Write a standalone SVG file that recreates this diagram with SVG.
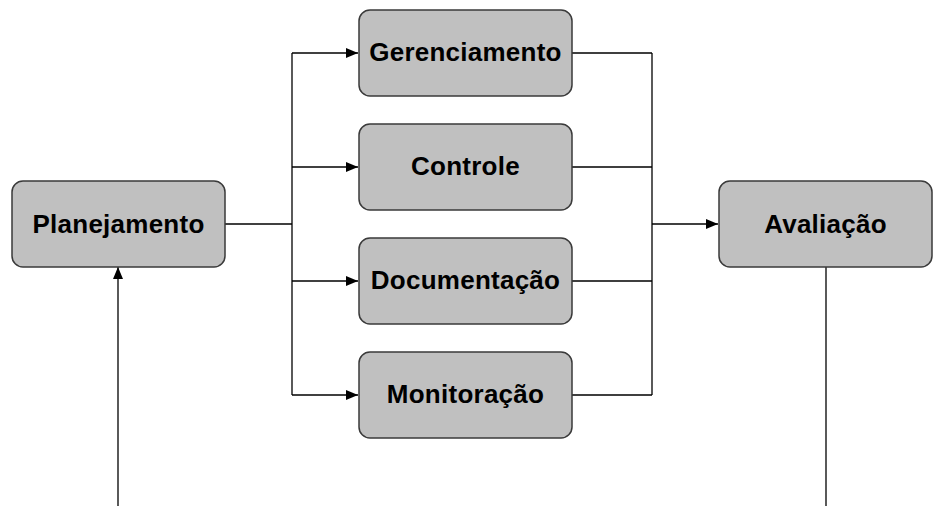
<svg xmlns="http://www.w3.org/2000/svg" width="940" height="506" viewBox="0 0 940 506">
<defs>
<marker id="ah" viewBox="0 0 12 10" refX="12" refY="5" markerWidth="12" markerHeight="10" markerUnits="userSpaceOnUse" orient="auto">
<path d="M0,0 L12,5 L0,10 Z" fill="#000"/>
</marker>
</defs>
<style>
.box{fill:#c0c0c0;stroke:#3a3a3a;stroke-width:1.5}
.lbl{font-family:"Liberation Sans",Arial,sans-serif;font-weight:bold;font-size:26px;letter-spacing:0.25px;fill:#000;text-anchor:middle}
.ln{fill:none;stroke:#000;stroke-width:1.3}
</style>
<rect width="940" height="506" fill="#fff"/>
<g id="connectors">
<path class="ln" d="M225,224 H292"/>
<path class="ln" d="M292,53 V395"/>
<path class="ln" d="M292,53 H358" marker-end="url(#ah)"/>
<path class="ln" d="M292,167 H358" marker-end="url(#ah)"/>
<path class="ln" d="M292,281 H358" marker-end="url(#ah)"/>
<path class="ln" d="M292,395 H358" marker-end="url(#ah)"/>
<path class="ln" d="M572,53 H652 M572,167 H652 M572,281 H652 M572,395 H652"/>
<path class="ln" d="M652,53 V395"/>
<path class="ln" d="M652,224 H718" marker-end="url(#ah)"/>
<path class="ln" d="M826,267 V506"/>
<path class="ln" d="M118,506 V267" marker-end="url(#ah)"/>
</g>
<g id="planejamento">
<rect class="box" x="12" y="181" width="213" height="86" rx="11"/>
<text class="lbl" x="118.5" y="233">Planejamento</text>
</g>
<g id="gerenciamento">
<rect class="box" x="359" y="10" width="213" height="86" rx="11"/>
<text class="lbl" x="465.5" y="61">Gerenciamento</text>
</g>
<g id="controle">
<rect class="box" x="359" y="124" width="213" height="86" rx="11"/>
<text class="lbl" x="465.5" y="175">Controle</text>
</g>
<g id="documentacao">
<rect class="box" x="359" y="238" width="213" height="86" rx="11"/>
<text class="lbl" x="465.5" y="289">Documentação</text>
</g>
<g id="monitoracao">
<rect class="box" x="359" y="352" width="213" height="86" rx="11"/>
<text class="lbl" x="465.5" y="403">Monitoração</text>
</g>
<g id="avaliacao">
<rect class="box" x="719" y="181" width="213" height="86" rx="11"/>
<text class="lbl" x="825.5" y="233">Avaliação</text>
</g>
</svg>
